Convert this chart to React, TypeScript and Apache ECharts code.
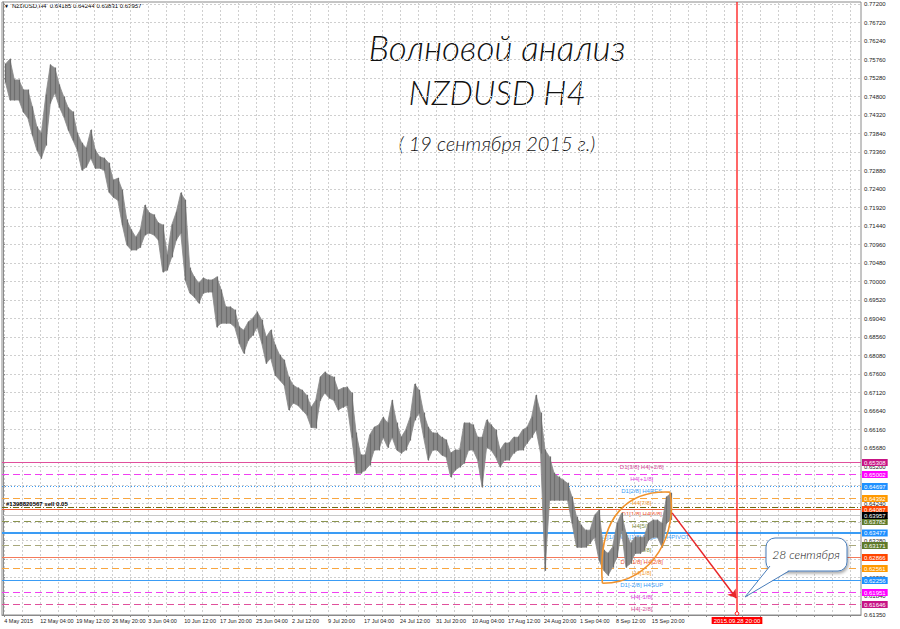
import React, { useEffect, useRef } from 'react';
import * as echarts from 'echarts';

// ---- data ----
const GROUP_BARS = 4; // each column below summarises 4 H4 bars
const highs = [
  0.7564, 0.7577, 0.7523, 0.7523, 0.7497, 0.7497, 0.7453, 0.7401, 0.7385, 0.7484,
  0.7562, 0.7554, 0.7510, 0.7479, 0.7450, 0.7440, 0.7385, 0.7359, 0.7346, 0.7393,
  0.7341, 0.7323, 0.7320, 0.7307, 0.7263, 0.7268, 0.7237, 0.7160, 0.7134, 0.7115,
  0.7134, 0.7198, 0.7178, 0.7173, 0.7152, 0.7147, 0.7069, 0.7147, 0.7180, 0.7230,
  0.7211, 0.7035, 0.7012, 0.6996, 0.7009, 0.7004, 0.7004, 0.7012, 0.6978, 0.6934,
  0.6934, 0.6926, 0.6882, 0.6874, 0.6895, 0.6905, 0.6921, 0.6900, 0.6856, 0.6874,
  0.6835, 0.6809, 0.6796, 0.6752, 0.6731, 0.6724, 0.6718, 0.6705, 0.6674, 0.6692,
  0.6752, 0.6765, 0.6757, 0.6752, 0.6718, 0.6724, 0.6726, 0.6711, 0.6607, 0.6550,
  0.6550, 0.6602, 0.6622, 0.6628, 0.6648, 0.6633, 0.6692, 0.6633, 0.6596, 0.6615,
  0.6648, 0.6734, 0.6718, 0.6659, 0.6622, 0.6607, 0.6607, 0.6596, 0.6589, 0.6555,
  0.6563, 0.6563, 0.6633, 0.6633, 0.6628, 0.6596, 0.6596, 0.6641, 0.6628, 0.6615,
  0.6563, 0.6581, 0.6581, 0.6596, 0.6596, 0.6615, 0.6622, 0.6648, 0.6705, 0.6659,
  0.6563, 0.6545, 0.6503, 0.6493, 0.6485, 0.6477, 0.6441, 0.6389, 0.6368, 0.6355,
  0.6355, 0.6394, 0.6407, 0.6303, 0.6295, 0.6311, 0.6373, 0.6399, 0.6347, 0.6321,
  0.6337, 0.6337, 0.6337, 0.6373, 0.6381, 0.6381, 0.6373, 0.6441, 0.6451,
];
const lows = [
  0.7518, 0.7471, 0.7471, 0.7471, 0.7440, 0.7424, 0.7380, 0.7341, 0.7320, 0.7354,
  0.7463, 0.7489, 0.7453, 0.7427, 0.7393, 0.7367, 0.7341, 0.7289, 0.7297, 0.7320,
  0.7294, 0.7294, 0.7289, 0.7232, 0.7219, 0.7211, 0.7147, 0.7095, 0.7082, 0.7082,
  0.7089, 0.7121, 0.7126, 0.7121, 0.7108, 0.7025, 0.7030, 0.7064, 0.7108, 0.7126,
  0.7004, 0.6970, 0.6960, 0.6944, 0.6970, 0.6973, 0.6973, 0.6882, 0.6892, 0.6892,
  0.6892, 0.6882, 0.6840, 0.6814, 0.6848, 0.6861, 0.6882, 0.6840, 0.6788, 0.6801,
  0.6757, 0.6744, 0.6731, 0.6667, 0.6685, 0.6679, 0.6667, 0.6654, 0.6622, 0.6620,
  0.6692, 0.6711, 0.6698, 0.6692, 0.6667, 0.6674, 0.6679, 0.6596, 0.6503, 0.6503,
  0.6511, 0.6524, 0.6563, 0.6563, 0.6596, 0.6570, 0.6596, 0.6563, 0.6555, 0.6563,
  0.6589, 0.6641, 0.6659, 0.6596, 0.6537, 0.6563, 0.6563, 0.6550, 0.6545, 0.6493,
  0.6511, 0.6519, 0.6529, 0.6563, 0.6563, 0.6537, 0.6467, 0.6570, 0.6563, 0.6545,
  0.6519, 0.6537, 0.6537, 0.6555, 0.6563, 0.6563, 0.6581, 0.6596, 0.6615, 0.6555,
  0.6251, 0.6433, 0.6433, 0.6433, 0.6433, 0.6433, 0.6373, 0.6311, 0.6311, 0.6311,
  0.6321, 0.6337, 0.6277, 0.6251, 0.6238, 0.6259, 0.6285, 0.6355, 0.6259, 0.6269,
  0.6295, 0.6295, 0.6303, 0.6329, 0.6337, 0.6337, 0.6311, 0.6373, 0.6383,
];

const dateBars = [1, 33, 65, 97, 129, 161, 193, 225, 257, 289, 321, 353, 385, 417, 449, 481, 513, 545, 577];
const dateLabels = [
  '4 May 2015', '12 May 04:00', '19 May 12:00', '26 May 20:00', '3 Jun 04:00', '10 Jun 12:00',
  '17 Jun 20:00', '25 Jun 04:00', '2 Jul 12:00', '9 Jul 20:00', '17 Jul 04:00', '24 Jul 12:00',
  '31 Jul 20:00', '10 Aug 04:00', '17 Aug 12:00', '24 Aug 20:00', '1 Sep 04:00', '8 Sep 12:00',
  '15 Sep 20:00',
];
// grid prices (all get a grid line); the labelled ones exclude those fully hidden by level tags
const priceTicks = [
  0.772, 0.7672, 0.7624, 0.7576, 0.7528, 0.748, 0.7432, 0.7384, 0.7336, 0.7288, 0.724,
  0.7192, 0.7144, 0.7096, 0.7048, 0.7, 0.6952, 0.6904, 0.6856, 0.6808, 0.676, 0.6712,
  0.6664, 0.6616, 0.6568, 0.652, 0.6472, 0.6424, 0.6376, 0.6328, 0.628, 0.6232, 0.6184, 0.6135,
];
const priceLabels = [
  0.772, 0.7672, 0.7624, 0.7576, 0.7528, 0.748, 0.7432, 0.7384, 0.7336, 0.7288, 0.724,
  0.7192, 0.7144, 0.7096, 0.7048, 0.7, 0.6952, 0.6904, 0.6856, 0.6808, 0.676, 0.6712,
  0.6664, 0.6616, 0.6568, 0.652, 0.6424, 0.6328, 0.6232, 0.6184, 0.6135,
];

const levelPrices = [0.65308, 0.65002, 0.64697, 0.64392, 0.64087, 0.63782, 0.63477, 0.63171, 0.62866, 0.62561, 0.62256, 0.61951, 0.61646];
const levelNames = [
  'D1[3/8] H4[+2/8]', 'H4[+1/8]', 'D1[2/8] H4RES', 'H4[7/8]', 'D1[1/8] H4[6/8]', 'H4[5/8]',
  'MN1[1/8] W1[1/8] D1[0/8] H4PIVOT', 'H4[3/8]', 'D1[-1/8] H4[2/8]', 'H4[1/8]', 'D1[-2/8] H4SUP',
  'H4[-1/8]', 'H4[-2/8]',
];

const bidPrice = 0.63957;
const orderPrice = 0.6415;
const orderText = '#1398820567 sell 0.05';
const headerText = 'NZDUSD,H4  0.64185 0.64244 0.63831 0.63957';
const futureBar = 653;
const futureText = '2015.09.28 20:00';
const arrowFrom = [595, 0.64];
const arrowTo = [652, 0.6179];
// lens outline: start, control1, control2, end, control1, control2
const lensPts = [
  [533, 0.62175], [528, 0.6394], [557, 0.6459], [593, 0.64537], [600, 0.6355], [580, 0.62175],
];
const LABEL_BAR = 568;

// ---- styles ----
const PINK = '#e0509c', MAG = '#f040f0', BLUE = '#3a9cf5', ORANGE = '#f8a640', RED = '#f4603a', OLIVE = '#8a9450', SALMON = '#f47a5a';
const levelStyles: any[] = [
  { line: PINK, bg: '#c71585', dash: null, width: 1, text: '#d64a98' },
  { line: MAG, bg: '#ff00ff', dash: [7, 4], width: 1, text: '#e040e0' },
  { line: BLUE, bg: '#1e90ff', dash: [1, 2], width: 1, text: '#3a9cf5' },
  { line: ORANGE, bg: '#ff9900', dash: [7, 4], width: 1, text: '#f29a30' },
  { line: RED, bg: '#ff4500', dash: null, width: 1, text: '#ee5533' },
  { line: OLIVE, bg: '#5f7a2a', dash: [7, 4], width: 1, text: '#7d8a3a' },
  { line: BLUE, bg: '#1e90ff', dash: null, width: 2, text: '#3a9cf5' },
  { line: '#a8a87c', bg: '#5f7a2a', dash: [7, 4], width: 1, text: '#7d8a3a' },
  { line: SALMON, bg: '#ff4500', dash: null, width: 1, text: '#ee5533' },
  { line: ORANGE, bg: '#ff9900', dash: [7, 4], width: 1, text: '#f29a30' },
  { line: BLUE, bg: '#1e90ff', dash: null, width: 1, text: '#3a9cf5' },
  { line: MAG, bg: '#ff00ff', dash: [7, 4], width: 1, text: '#e040e0' },
  { line: PINK, bg: '#c71585', dash: [7, 4], width: 1, text: '#d64a98' },
];

const SMALL = 'Liberation Sans, Arial, sans-serif';
const TITLE_FONT = 'Lato, "Noto Sans", sans-serif';
const BAND_GRAY = '#898989';
const BAR_GRAY = '#6e6e6e';

function buildOption() {
  const gridBars = Array.from({ length: 48 }, (_, i) => 1 + i * 16);
  const barData = highs.map((h, i) => [i * GROUP_BARS + GROUP_BARS / 2, h, lows[i]]);

  const hLines: any[] = levelPrices.map((p, i) => ({
    price: p, name: levelNames[i], tag: p.toFixed(5), ...levelStyles[i],
  }));
  hLines.push({ price: orderPrice, name: '', tag: '', left: orderText, line: '#6f6a10', dash: [6, 2, 1, 2], width: 1 });
  hLines.push({ price: bidPrice, name: '', tag: bidPrice.toFixed(5), line: '#c8c8c8', bg: '#000', dash: null, width: 1 });

  return {
    animation: false,
    backgroundColor: '#ffffff',
    grid: {
      left: 2, right: 39, top: 2, bottom: 14, show: true, borderColor: '#8a8a8a', borderWidth: 1,
      backgroundColor: '#fff', outerBoundsMode: 'none', containLabel: false,
    },
    xAxis: {
      type: 'value', min: -1, max: 763,
      axisLine: { show: true, onZero: false, lineStyle: { color: '#8a8a8a' } },
      axisTick: { show: true, customValues: gridBars, length: 2, lineStyle: { color: '#8a8a8a' } },
      axisLabel: {
        show: true, customValues: dateBars, align: 'left', fontSize: 5.5, fontFamily: SMALL, color: '#222',
        margin: 3, formatter: (v: number) => {
          const i = dateBars.indexOf(Math.round(v));
          return i >= 0 ? dateLabels[i] : '';
        },
      },
      splitLine: { show: true, lineStyle: { color: '#cfcfcf', type: [2, 2], width: 1 } },
    },
    yAxis: {
      type: 'value', position: 'right', min: 0.6135, max: 0.77252,
      axisLine: { show: true, lineStyle: { color: '#8a8a8a' } },
      axisTick: { show: true, customValues: priceTicks, length: 2, lineStyle: { color: '#8a8a8a' } },
      axisLabel: {
        show: true, customValues: priceLabels, fontSize: 6, fontFamily: SMALL, color: '#222', margin: 3,
        formatter: (v: number) => v.toFixed(5),
      },
      splitLine: { show: true, lineStyle: { color: '#cfcfcf', type: [2, 2], width: 1 } },
    },
    graphic: [
      { type: 'text', left: 4, top: 3, style: { text: '▼', fontSize: 5, fill: '#000' } },
      { type: 'text', left: 12, top: 3, style: { text: headerText, fontSize: 6, fontFamily: SMALL, fill: '#000' } },
      { type: 'text', x: 497, y: 47, style: { text: 'Волновой анализ', fontSize: 35, fontStyle: 'italic', fontWeight: 300, fontFamily: TITLE_FONT, fill: '#111', align: 'center', verticalAlign: 'middle' } },
      { type: 'text', x: 497, y: 92, style: { text: 'NZDUSD H4', fontSize: 33, fontStyle: 'italic', fontWeight: 300, fontFamily: TITLE_FONT, fill: '#111', align: 'center', verticalAlign: 'middle' } },
      { type: 'text', x: 497, y: 143, style: { text: '( 19 сентября 2015 г.)', fontSize: 20, fontStyle: 'italic', fontWeight: 300, fontFamily: TITLE_FONT, fill: '#111', align: 'center', verticalAlign: 'middle' } },
      // callout bubble
      { type: 'rect', z: 100, shape: { x: 766, y: 538, width: 81, height: 33, r: 9 }, style: { fill: '#fff', stroke: '#4a7ebb', lineWidth: 1, shadowBlur: 3, shadowColor: 'rgba(0,0,0,0.35)', shadowOffsetX: 1, shadowOffsetY: 2 } },
      { type: 'polygon', z: 101, shape: { points: [[770, 566], [745, 597], [789, 570.5]] }, style: { fill: '#fff' } },
      { type: 'polyline', z: 102, shape: { points: [[770, 566], [745, 597], [789, 571]] }, style: { stroke: '#4a7ebb', lineWidth: 1, fill: 'none' } },
      { type: 'text', z: 103, x: 806, y: 554, style: { text: '28 сентября', fontSize: 12, fontStyle: 'italic', fontWeight: 300, fontFamily: TITLE_FONT, fill: '#111', align: 'center', verticalAlign: 'middle' } },
    ],
    series: [
      {
        // horizontal levels with their names and price tags
        type: 'custom', z: 2, silent: true, clip: false,
        data: hLines.map((h) => [LABEL_BAR, h.price]), encode: { x: 0, y: 1 },
        renderItem: (params: any, api: any) => {
          const h = hLines[params.dataIndex];
          const pt = api.coord([api.value(0), api.value(1)]);
          const cs = params.coordSys;
          const y = Math.round(pt[1]) + (h.width === 2 ? 0 : 0.5);
          const children: any[] = [
            {
              type: 'line', shape: { x1: cs.x, y1: y, x2: cs.x + cs.width, y2: y },
              style: { stroke: h.line, lineWidth: h.width, lineDash: h.dash || null, fill: null },
            },
          ];
          if (h.name) {
            children.push({
              type: 'text', x: pt[0], y: y + 1,
              style: { text: h.name, fill: h.text, fontSize: 6, fontFamily: SMALL, align: 'center', verticalAlign: 'top' },
            });
          }
          if (h.left) {
            children.push({
              type: 'text', x: cs.x + 4, y: y - 1,
              style: { text: h.left, fill: '#000', fontSize: 6, fontWeight: 'bold', fontFamily: SMALL, align: 'left', verticalAlign: 'bottom' },
            });
          }
          if (h.tag) {
            children.push({
              type: 'text', x: cs.x + cs.width + 1, y,
              style: {
                text: h.tag, fill: '#fff', backgroundColor: h.bg, padding: [1, 2, 0, 2], fontSize: 6,
                fontFamily: SMALL, align: 'left', verticalAlign: 'middle',
              },
            });
          }
          return { type: 'group', children };
        },
      },
      {
        // price band drawn from the grouped highs / lows
        type: 'custom', z: 3, silent: true, data: barData, encode: { x: 0, y: [1, 2] },
        renderItem: (params: any, api: any) => {
          if (params.dataIndex !== 0) return null;
          const top = highs.map((v, i) => api.coord([i * GROUP_BARS + GROUP_BARS / 2, v]));
          const bot = lows.map((v, i) => api.coord([i * GROUP_BARS + GROUP_BARS / 2, v])).reverse();
          return {
            type: 'polygon',
            shape: { points: top.concat(bot) },
            style: { fill: BAND_GRAY, stroke: BAND_GRAY, lineWidth: 0.8, lineJoin: 'miter' },
          };
        },
      },
      {
        // one bar stroke per group, high to low
        type: 'custom', z: 3.5, silent: true, data: barData, encode: { x: 0, y: [1, 2] },
        renderItem: (_p: any, api: any) => {
          const b = api.value(0);
          const t = api.coord([b, api.value(1)]);
          const d = api.coord([b, api.value(2)]);
          const x = Math.round(t[0]) + 0.5;
          return {
            type: 'line', shape: { x1: x, y1: t[1] - 0.5, x2: x, y2: d[1] + 0.5 },
            style: { stroke: BAR_GRAY, lineWidth: 1.2 },
          };
        },
      },
      {
        type: 'custom', z: 4, silent: true, clip: false, data: [[lensPts[0][0], lensPts[0][1]]],
        renderItem: (_p: any, api: any) => {
          const c = lensPts.map((q) => api.coord(q));
          const st = { stroke: '#f0922b', lineWidth: 1.6, fill: 'none' };
          return {
            type: 'group',
            children: [
              { type: 'bezierCurve', shape: { x1: c[0][0], y1: c[0][1], cpx1: c[1][0], cpy1: c[1][1], cpx2: c[2][0], cpy2: c[2][1], x2: c[3][0], y2: c[3][1] }, style: st },
              { type: 'bezierCurve', shape: { x1: c[3][0], y1: c[3][1], cpx1: c[4][0], cpy1: c[4][1], cpx2: c[5][0], cpy2: c[5][1], x2: c[0][0], y2: c[0][1] }, style: st },
            ],
          };
        },
      },
      {
        type: 'line', data: [], z: 5, silent: true,
        markLine: {
          silent: true, animation: false, symbol: ['none', 'arrow'], symbolSize: 8,
          lineStyle: { color: '#e8262a', width: 1.5, type: 'solid' },
          label: { show: false },
          data: [[{ coord: arrowFrom }, { coord: arrowTo }]],
        },
      },
      {
        // future time marker (vertical red line with its date tag)
        type: 'custom', z: 6, silent: true, clip: false, data: [[futureBar, 0.6135]], encode: { x: 0, y: 1 },
        renderItem: (params: any, api: any) => {
          const cs = params.coordSys;
          const p = api.coord([api.value(0), api.value(1)]);
          const x = Math.round(p[0]);
          return {
            type: 'group',
            children: [
              { type: 'rect', shape: { x: x - 0.6, y: cs.y, width: 1.2, height: cs.height }, style: { fill: '#ff0000' } },
              { type: 'circle', shape: { cx: x, cy: cs.y + cs.height - 1.5, r: 1.8 }, style: { stroke: '#ff0000', fill: '#fff', lineWidth: 1 } },
              {
                type: 'text', x, y: cs.y + cs.height + 2,
                style: {
                  text: futureText, fill: '#fff', backgroundColor: '#ff0000', padding: [1, 2, 0, 2], fontSize: 6,
                  fontFamily: SMALL, align: 'center', verticalAlign: 'top',
                },
              },
            ],
          };
        },
      },
    ],
  };
}

export default function App() {
  const ref = useRef<HTMLDivElement>(null);
  useEffect(() => {
    const chart = echarts.init(ref.current as HTMLDivElement, undefined, { renderer: 'svg' });
    chart.setOption(buildOption() as any);
    return () => chart.dispose();
  }, []);
  return <div ref={ref} style={{ position: 'fixed', left: 0, top: 0, width: 900, height: 629 }} />;
}
